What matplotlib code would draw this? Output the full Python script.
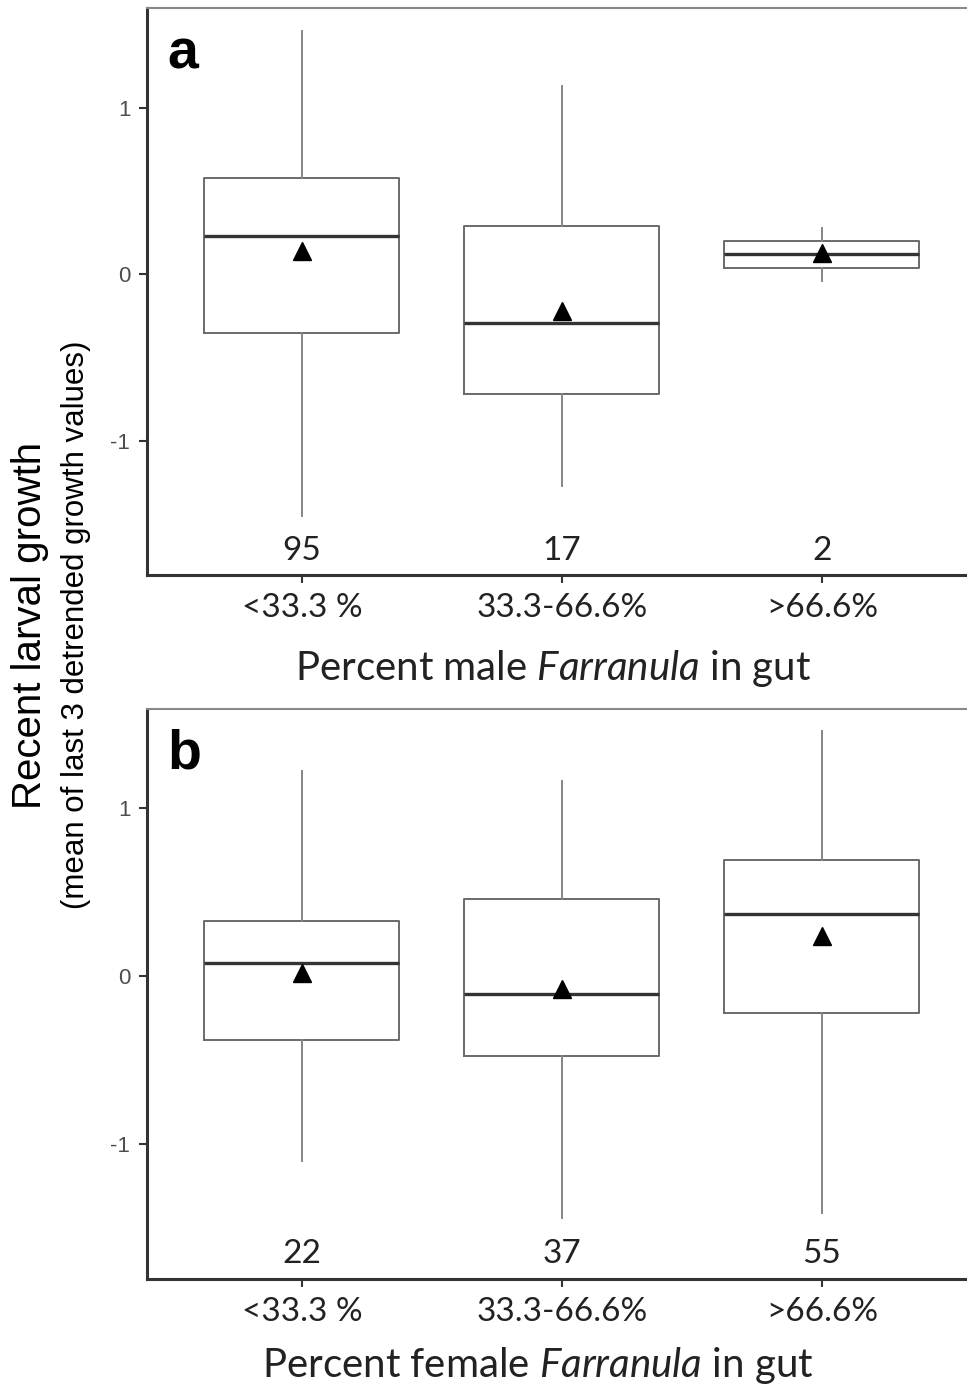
import numpy as np
import matplotlib.pyplot as plt

plt.rcParams['mathtext.fontset'] = 'custom'
plt.rcParams['mathtext.rm'] = 'Lato'
plt.rcParams['mathtext.it'] = 'Lato:italic'

categories = ["<33.3 %", "33.3-66.6%", ">66.6%"]

# panel a: percent male Farranula
male_whislo = [-1.45, -1.27, -0.04]
male_q1 = [-0.35, -0.72, 0.04]
male_med = [0.23, -0.29, 0.12]
male_q3 = [0.58, 0.29, 0.20]
male_whishi = [1.46, 1.13, 0.28]
male_mean = [0.14, -0.22, 0.13]
male_n = [95, 17, 2]

# panel b: percent female Farranula
female_whislo = [-1.10, -1.44, -1.41]
female_q1 = [-0.38, -0.48, -0.22]
female_med = [0.08, -0.11, 0.37]
female_q3 = [0.33, 0.46, 0.69]
female_whishi = [1.22, 1.16, 1.46]
female_mean = [0.02, -0.08, 0.24]
female_n = [22, 37, 55]


def stats(lo, q1, med, q3, hi, mean):
    return [dict(whislo=a, q1=b, med=c, q3=d, whishi=e, mean=f, fliers=[])
            for a, b, c, d, e, f in zip(lo, q1, med, q3, hi, mean)]


def panel(ax, st, counts, letter, xtitle, title_x, title_y):
    ax.bxp(st, positions=[1, 2, 3], widths=0.75, showmeans=True,
           showcaps=False, showfliers=False, patch_artist=False,
           boxprops=dict(color="#6a6a6a", linewidth=1.4),
           whiskerprops=dict(color="#858585", linewidth=1.4),
           medianprops=dict(color="#333333", linewidth=2.4),
           meanprops=dict(marker="^", markerfacecolor="black",
                          markeredgecolor="black", markersize=13))
    ax.set_xlim(0.404, 3.558)
    ax.set_ylim(-1.806, 1.596)
    ax.set_yticks([-1, 0, 1])
    ax.set_yticklabels(["-1", "0", "1"], family="Liberation Sans",
                       fontsize=16, color="#4d4d4d")
    ax.set_xticks([1, 2, 3])
    ax.set_xticklabels(categories, family="Lato", fontsize=24, color="#222222")
    ax.tick_params(axis="y", length=6, width=1.5, color="#333333", pad=6)
    ax.tick_params(axis="x", length=6, width=1.5, color="#333333", pad=7)
    for side in ["left", "bottom"]:
        ax.spines[side].set_color("#333333")
        ax.spines[side].set_linewidth(2.2)
    ax.spines["top"].set_color("#888888")
    ax.spines["top"].set_linewidth(1.5)
    ax.spines["right"].set_visible(False)
    for k, n in enumerate(counts):
        ax.text(k + 1, -1.66, str(n), ha="center", va="center",
                family="Lato", fontsize=24, color="#222222")
    ax.text(0.025, 0.965, letter, transform=ax.transAxes, ha="left", va="top",
            family="Liberation Sans", fontweight="bold", fontsize=40)
    ax.set_xlabel(xtitle, family="Lato", fontsize=29, color="#222222")
    ax.xaxis.set_label_coords(title_x, title_y)
    ax.xaxis.label.set_va("center")


fig = plt.figure(figsize=(9.67, 13.89), dpi=100)
ax_a = fig.add_axes([0.152, 0.586, 0.848, 0.408])
ax_b = fig.add_axes([0.152, 0.0792, 0.848, 0.4104])

panel(ax_a, stats(male_whislo, male_q1, male_med, male_q3, male_whishi, male_mean),
      male_n, "a", r"Percent male $\mathit{Farranula}$ in gut", 0.495, -0.165)
panel(ax_b, stats(female_whislo, female_q1, female_med, female_q3, female_whishi, female_mean),
      female_n, "b", r"Percent female $\mathit{Farranula}$ in gut", 0.477, -0.152)
ax_b.set_ylim(-1.806, 1.591)

fig.text(30 / 967, 1 - 625 / 1389, "Recent larval growth", rotation=90,
         ha="center", va="center", family="Liberation Sans", fontsize=29)
fig.text(76 / 967, 1 - 625 / 1389, "(mean of last 3 detrended growth values)",
         rotation=90, ha="center", va="center", family="Liberation Sans", fontsize=22.5)

fig.savefig("out.png", dpi=100)
